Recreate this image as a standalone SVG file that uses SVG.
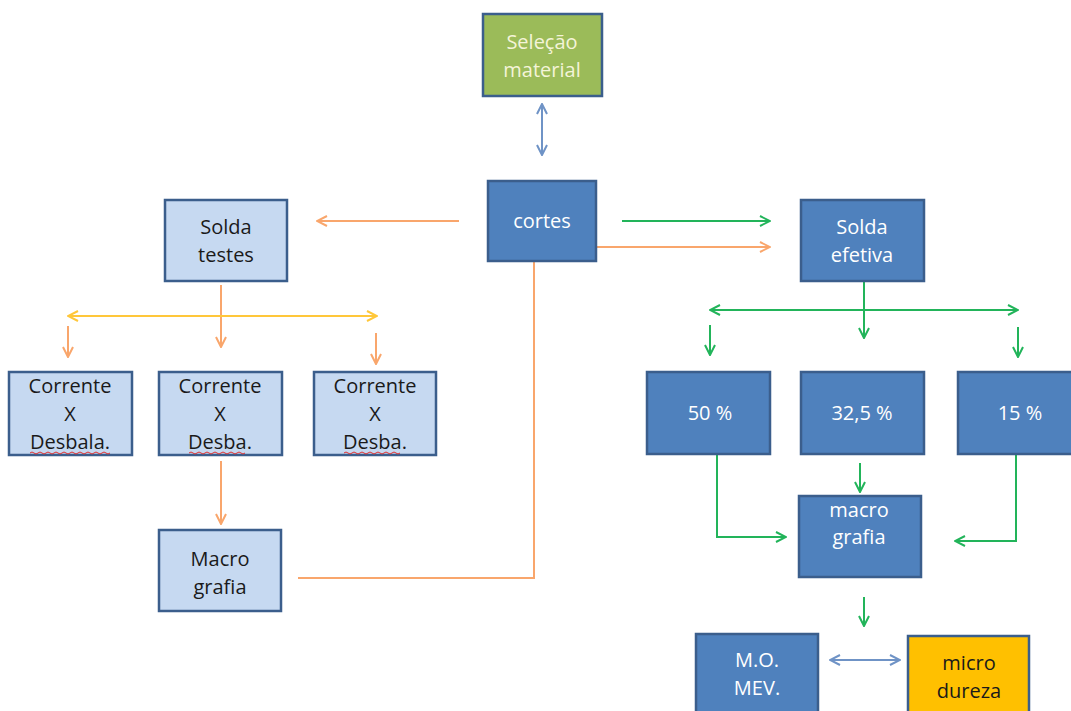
<svg xmlns="http://www.w3.org/2000/svg" width="1071" height="711" viewBox="0 0 1071 711">
<defs>
<style>
.box{stroke:#3B5E8C;stroke-width:2.5}
.dk{fill:#4F81BD}
.lt{fill:#C6D9F1}
.gr{fill:#9BBB59}
.yl{fill:#FFC000}
text{font-family:"Open Sans","Liberation Sans",sans-serif;font-size:20px;text-anchor:middle}
.w{fill:#FFFFFF}
.b{fill:#1A1A1A}
.c{fill:#F4F4D8}
.or{stroke:#F9A66C;stroke-width:2;fill:none}
.gn{stroke:#22B45A;stroke-width:2;fill:none}
.ye{stroke:#FFC73A;stroke-width:2;fill:none}
.bl{stroke:#6F93C6;stroke-width:2;fill:none}
.sq{stroke:#E03030;stroke-width:1;fill:none}
</style>
<marker id="aO" viewBox="0 0 12 12" refX="11" refY="6" markerWidth="12" markerHeight="12" markerUnits="userSpaceOnUse" orient="auto-start-reverse"><path d="M1,1 L11,6 L1,11" fill="none" stroke="#F9A66C" stroke-width="2"/></marker>
<marker id="aG" viewBox="0 0 12 12" refX="11" refY="6" markerWidth="12" markerHeight="12" markerUnits="userSpaceOnUse" orient="auto-start-reverse"><path d="M1,1 L11,6 L1,11" fill="none" stroke="#22B45A" stroke-width="2"/></marker>
<marker id="aY" viewBox="0 0 12 12" refX="11" refY="6" markerWidth="12" markerHeight="12" markerUnits="userSpaceOnUse" orient="auto-start-reverse"><path d="M1,1 L11,6 L1,11" fill="none" stroke="#FFC73A" stroke-width="2"/></marker>
<marker id="aB" viewBox="0 0 12 12" refX="11" refY="6" markerWidth="12" markerHeight="12" markerUnits="userSpaceOnUse" orient="auto-start-reverse"><path d="M1,1 L11,6 L1,11" fill="none" stroke="#6F93C6" stroke-width="2"/></marker>
</defs>
<rect width="1071" height="711" fill="#FFFFFF"/>

<g id="connectors">
<line class="bl" x1="542" y1="104" x2="542" y2="155" marker-start="url(#aB)" marker-end="url(#aB)"/>
<line class="or" x1="459" y1="221" x2="317" y2="221" marker-end="url(#aO)"/>
<line class="gn" x1="622" y1="221" x2="770" y2="221" marker-end="url(#aG)"/>
<line class="or" x1="597" y1="247" x2="770" y2="247" marker-end="url(#aO)"/>
<line class="or" x1="221" y1="285" x2="221" y2="347" marker-end="url(#aO)"/>
<line class="ye" x1="68" y1="316" x2="377" y2="316" marker-start="url(#aY)" marker-end="url(#aY)"/>
<line class="or" x1="68" y1="326" x2="68" y2="357" marker-end="url(#aO)"/>
<line class="or" x1="376" y1="333" x2="376" y2="364" marker-end="url(#aO)"/>
<line class="or" x1="221" y1="461" x2="221" y2="524" marker-end="url(#aO)"/>
<polyline class="or" points="298,578 534,578 534,262"/>
<line class="gn" x1="864" y1="281" x2="864" y2="338" marker-end="url(#aG)"/>
<line class="gn" x1="710" y1="310" x2="1018" y2="310" marker-start="url(#aG)" marker-end="url(#aG)"/>
<line class="gn" x1="710" y1="325" x2="710" y2="355" marker-end="url(#aG)"/>
<line class="gn" x1="1018" y1="327" x2="1018" y2="357" marker-end="url(#aG)"/>
<polyline class="gn" points="648,452 717,452 717,537 786,537" marker-end="url(#aG)"/>
<line class="gn" x1="860" y1="463" x2="860" y2="492" marker-end="url(#aG)"/>
<polyline class="gn" points="1071,452 1016,452 1016,541 955,541" marker-end="url(#aG)"/>
<line class="gn" x1="864" y1="597" x2="864" y2="626" marker-end="url(#aG)"/>
<line class="bl" x1="830" y1="660" x2="900" y2="660" marker-start="url(#aB)" marker-end="url(#aB)"/>
</g>

<g id="selecao">
<rect class="box gr" x="483" y="14" width="119" height="82"/>
<text class="c" x="542" y="49">Seleção</text>
<text class="c" x="542" y="77">material</text>
</g>
<g id="cortes">
<rect class="box dk" x="488" y="181" width="108" height="80"/>
<text class="w" x="542" y="228">cortes</text>
</g>
<g id="solda-testes">
<rect class="box lt" x="165" y="200" width="122" height="81"/>
<text class="b" x="226" y="234">Solda</text>
<text class="b" x="226" y="262">testes</text>
</g>
<g id="solda-efetiva">
<rect class="box dk" x="801" y="200" width="123" height="81"/>
<text class="w" x="862" y="234">Solda</text>
<text class="w" x="862" y="262">efetiva</text>
</g>
<g id="corrente1">
<rect class="box lt" x="9" y="372" width="123" height="83"/>
<text class="b" x="70" y="393">Corrente</text>
<text class="b" x="70" y="421">X</text>
<text class="b" x="70" y="449">Desbala.</text>
<path class="sq" d="M30,453 q2,-2 4,0 t4,0 t4,0 t4,0 t4,0 t4,0 t4,0 t4,0 t4,0 t4,0 t4,0 t4,0 t4,0 t4,0 t4,0 t4,0 t4,0 t4,0 t4,0 t4,0"/>
</g>
<g id="corrente2">
<rect class="box lt" x="159" y="372" width="123" height="83"/>
<text class="b" x="220" y="393">Corrente</text>
<text class="b" x="220" y="421">X</text>
<text class="b" x="220" y="449">Desba.</text>
<path class="sq" d="M189,453 q2,-2 4,0 t4,0 t4,0 t4,0 t4,0 t4,0 t4,0 t4,0 t4,0 t4,0 t4,0 t4,0 t4,0 t4,0"/>
</g>
<g id="corrente3">
<rect class="box lt" x="314" y="372" width="122" height="83"/>
<text class="b" x="375" y="393">Corrente</text>
<text class="b" x="375" y="421">X</text>
<text class="b" x="375" y="449">Desba.</text>
<path class="sq" d="M344,453 q2,-2 4,0 t4,0 t4,0 t4,0 t4,0 t4,0 t4,0 t4,0 t4,0 t4,0 t4,0 t4,0 t4,0 t4,0"/>
</g>
<g id="macro-grafia-testes">
<rect class="box lt" x="159" y="530" width="122" height="81"/>
<text class="b" x="220" y="566">Macro</text>
<text class="b" x="220" y="594">grafia</text>
</g>
<g id="p50">
<rect class="box dk" x="647" y="372" width="123" height="82"/>
<text class="w" x="710" y="420">50 %</text>
</g>
<g id="p325">
<rect class="box dk" x="801" y="372" width="123" height="82"/>
<text class="w" x="862" y="420">32,5 %</text>
</g>
<g id="p15">
<rect class="box dk" x="958" y="372" width="123" height="82"/>
<text class="w" x="1020" y="420">15 %</text>
</g>
<g id="macro-grafia">
<rect class="box dk" x="799" y="496" width="122" height="81"/>
<text class="w" x="859" y="517">macro</text>
<text class="w" x="859" y="544">grafia</text>
</g>
<g id="mo-mev">
<rect class="box dk" x="696" y="634" width="122" height="90"/>
<text class="w" x="757" y="667">M.O.</text>
<text class="w" x="757" y="695">MEV.</text>
</g>
<g id="micro-dureza">
<rect class="box yl" x="908" y="636" width="121" height="90"/>
<text class="b" x="969" y="670">micro</text>
<text class="b" x="969" y="698">dureza</text>
</g>
</svg>
